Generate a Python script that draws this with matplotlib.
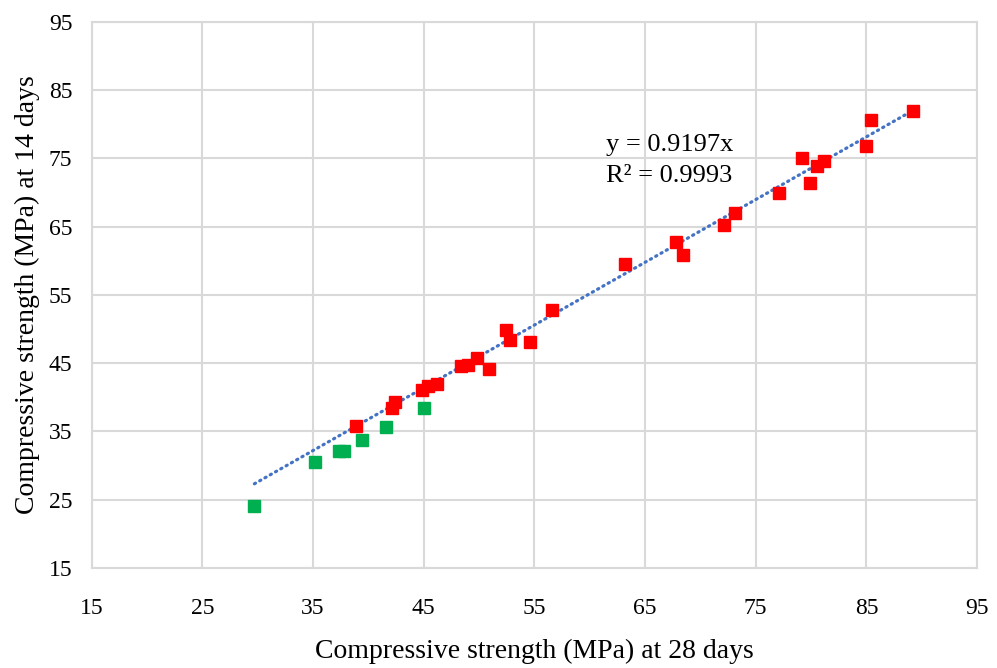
import numpy as np
import matplotlib
matplotlib.use("Agg")
import matplotlib.pyplot as plt

# donnees (28 jours, 14 jours)
x_vert = [29.7, 35.2, 37.3, 37.8, 39.4, 41.6, 45.0]
y_vert = [24.0, 30.5, 32.1, 32.1, 33.7, 35.7, 38.4]

x_rouge = [38.9, 42.1, 42.4, 44.8, 45.4, 46.2, 48.4, 49.0, 49.8, 50.9,
           52.4, 52.8, 54.6, 56.6, 63.2, 67.8, 68.4, 72.1, 73.1, 77.1,
           79.2, 79.9, 80.5, 81.2, 85.0, 85.4, 89.2]
y_rouge = [35.8, 38.4, 39.3, 41.1, 41.6, 42.0, 44.6, 44.8, 45.8, 44.1,
           49.8, 48.4, 48.1, 52.8, 59.6, 62.8, 60.8, 65.2, 67.0, 69.9,
           75.0, 71.4, 73.9, 74.7, 76.8, 80.6, 81.9]

pente = 0.9197
r2 = 0.9993
ticks = list(range(15, 96, 10))

police = "Liberation Serif"
gris = "#d9d9d9"

fig = plt.figure(figsize=(9.97, 6.68), dpi=100)
ax = fig.add_axes([0.092, 0.150, 0.888, 0.817])

# droite de tendance
xt = np.array([min(x_vert + x_rouge), max(x_vert + x_rouge)])
ax.plot(xt, pente * xt, color="#4472c4", lw=2.3, linestyle=(0, (0.4, 1.5)),
        dash_capstyle="round", zorder=2)

ax.plot(x_vert, y_vert, "s", color="#00b050", ms=9.2, mec="#00b050", zorder=3)
ax.plot(x_rouge, y_rouge, "s", color="#ff0000", ms=9.2, mec="#ff0000", zorder=3)

ax.text(61.5, 77.0, "y = %.4fx" % pente, fontsize=19, family=police, va="center")
ax.text(61.5, 72.4, "R² = %.4f" % r2, fontsize=19, family=police, va="center")

ax.set_xlim(15, 95)
ax.set_ylim(15, 95)
ax.set_xticks(ticks)
ax.set_yticks(ticks)
ax.grid(True, color=gris, lw=1.5)
ax.set_axisbelow(True)
for s in ax.spines.values():
    s.set_color(gris)
    s.set_linewidth(1.5)
ax.tick_params(axis="x", length=0, pad=22, labelsize=17)
ax.tick_params(axis="y", length=0, pad=14, labelsize=17)
for lab in ax.get_xticklabels() + ax.get_yticklabels():
    lab.set_family(police)

ax.set_xlabel("Compressive strength (MPa) at 28 days", fontsize=20,
              family=police, labelpad=14)
ax.set_ylabel("Compressive strength (MPa) at 14 days", fontsize=20,
              family=police, labelpad=6)

fig.savefig("out.png", dpi=100)
